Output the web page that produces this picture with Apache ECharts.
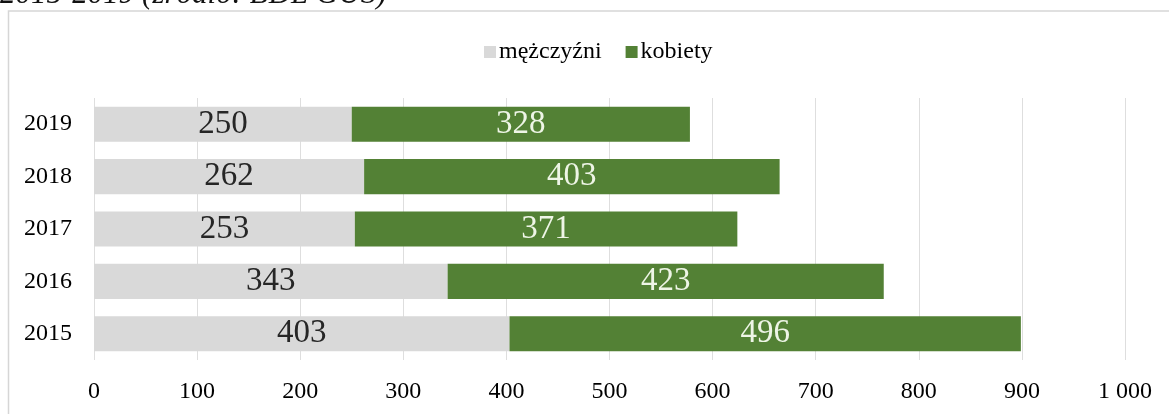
<!DOCTYPE html>
<html><head><meta charset="utf-8">
<script src="https://cdn.jsdelivr.net/npm/echarts@6/dist/echarts.min.js"></script>
<style>html,body{margin:0;padding:0;background:#fff}#c{width:1169px;height:414px}</style>
</head><body><div id="c"></div>
<script>
const years = ['2015','2016','2017','2018','2019'];
const men = [403, 343, 253, 262, 250];
const women = [496, 423, 371, 403, 328];
const xTicks = [0,100,200,300,400,500,600,700,800,900,1000];
const titleText = '2015-2019 (źródło: BDL GUS)';
const serif = "'Liberation Serif','Times New Roman',serif";

const chart = echarts.init(document.getElementById('c'), null, {renderer:'canvas'});
chart.setOption({
  animation:false,
  backgroundColor:'#fff',
  graphic:[
    {type:'text', left:0, top:-21, style:{text:titleText, font:"italic 31px 'Liberation Serif', serif", fill:'#111'}},
    {type:'rect', shape:{x:8.5,y:11,width:1200,height:500}, style:{fill:'none', stroke:'#d6d6d6', lineWidth:1.5}}
  ],
  legend:{
    top:35, left:479, itemWidth:12, itemHeight:12, itemGap:24,
    textStyle:{fontFamily:serif, fontSize:24, color:'#000', padding:[0,0,0,-2]},
    data:[{name:'mężczyźni', icon:'rect'},{name:'kobiety', icon:'rect'}]
  },
  grid:{left:94, right:44, top:98, bottom:54},
  xAxis:{
    type:'value', min:xTicks[0], max:xTicks[xTicks.length-1], interval:100,
    axisLine:{show:false}, axisTick:{show:false},
    splitLine:{lineStyle:{color:'#dedede', width:1}},
    axisLabel:{fontFamily:serif, fontSize:24, color:'#000', margin:20,
      formatter:v=> v>=1000 ? String(v).replace(/(\d)(\d{3})$/,'$1 $2') : String(v)}
  },
  yAxis:{
    type:'category', data:years,
    axisLine:{show:false}, axisTick:{show:false},
    axisLabel:{fontFamily:serif, fontSize:24, color:'#000', margin:22}
  },
  series:[
    {name:'mężczyźni', type:'bar', stack:'t', data:men, barCategoryGap:'33%',
     itemStyle:{color:'#d9d9d9'},
     label:{show:true, position:'inside', fontFamily:serif, fontSize:33, color:'#262626'}},
    {name:'kobiety', type:'bar', stack:'t', data:women,
     itemStyle:{color:'#538135'},
     label:{show:true, position:'inside', fontFamily:serif, fontSize:33, color:'#eef5e6'}}
  ]
});
</script></body></html>
